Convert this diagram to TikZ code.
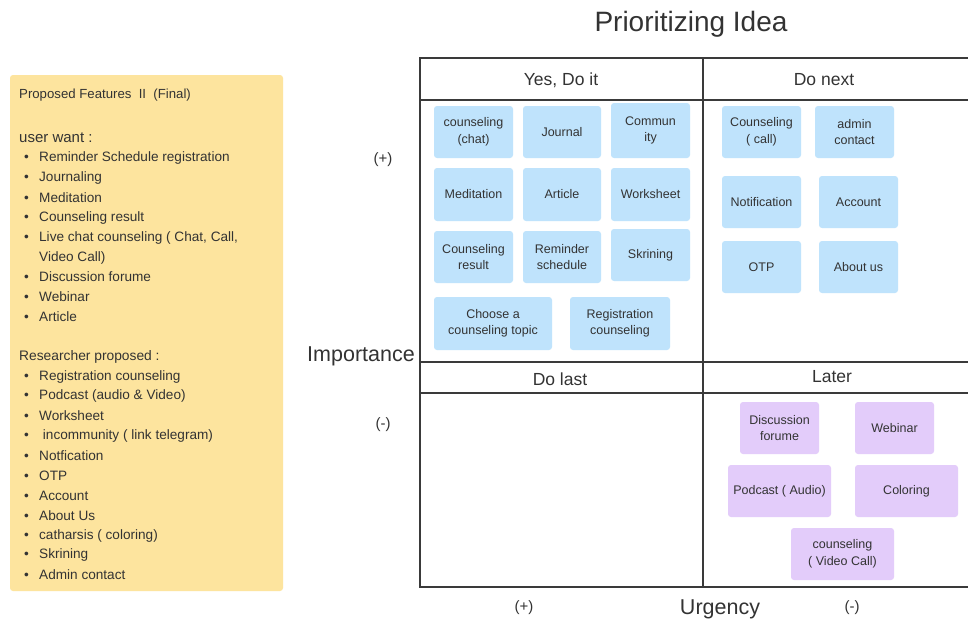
\documentclass[tikz,border=0pt]{standalone}
\usepackage{fontspec}
\setmainfont{Liberation Sans}
\definecolor{ink}{HTML}{333333}
\definecolor{gridink}{HTML}{3A3A3A}
\definecolor{notepad}{HTML}{FDE49E}
\definecolor{stickyblue}{HTML}{BFE3FC}
\definecolor{stickypurple}{HTML}{E3CCFA}
\tikzset{
  sticky/.style={rounded corners=3pt, inner sep=1pt, align=center, text=ink,
    font=\fontsize{12.5}{16.5}\selectfont},
  bluenote/.style={sticky, fill=stickyblue},
  purplenote/.style={sticky, fill=stickypurple},
  gridline/.style={draw=gridink, line width=1.5pt},
  header/.style={text=ink, yshift=-1pt, font=\fontsize{17.5}{20}\selectfont},
  axislabel/.style={text=ink, yshift=-1.5pt, font=\fontsize{21.5}{24}\selectfont},
  signlabel/.style={text=ink, yshift=-1.5pt, font=\fontsize{15}{17}\selectfont},
  listitem/.style={anchor=west, inner sep=0pt, yshift=-1.5pt, text=ink, font=\fontsize{13.6}{16}\selectfont},
}
\newcommand{\stickynote}[7]{% style, name, x1, y1, x2, y2, text
  \node[#1, minimum width=#5pt-#3pt, minimum height=#6pt-#4pt] (#2) at ({(#3+#5)/2},{(#4+#6)/2}) {#7};}
\begin{document}
\begin{tikzpicture}[x=1pt,y=-1pt]
\useasboundingbox (0,0) rectangle (968,618);
\fill[white] (0,0) rectangle (968,618);

% feature list note
\fill[notepad, rounded corners=3pt] (10,75) rectangle (283,591);
\node[listitem, font=\fontsize{13.2}{16}\selectfont] (listtitle) at (19,94) {Proposed Features~~II~~(Final)};
\node[listitem, font=\fontsize{15}{17}\selectfont] (userwant) at (19,136) {user want :};
\foreach \y/\t [count=\i] in {156/Reminder Schedule registration, 176/Journaling, 196/Meditation,
    216/Counseling result, 236/{Live chat counseling ( Chat, Call,}, 275/Discussion forume,
    295/Webinar, 315/Article}
  \node[listitem] (uw\i) at (24,\y) {\makebox[15pt][l]{\textbullet}\t};
\node[listitem] (uwcont) at (39,256) {Video Call)};
\node[listitem, font=\fontsize{13.8}{16}\selectfont] (resprop) at (19,355) {Researcher proposed :};
\foreach \y/\t [count=\i] in {375/Registration counseling, 394/Podcast (audio \& Video),
    414/Worksheet, 434/{\ incommunity ( link telegram)}, 454/Notfication, 474/OTP,
    494/Account, 514/About Us, 534/catharsis ( coloring), 553/Skrining, 573/Admin contact}
  \node[listitem] (rp\i) at (24,\y) {\makebox[15pt][l]{\textbullet}\t};

% title and axes
\node[text=ink, yshift=-2pt, font=\fontsize{28}{32}\selectfont] (title) at (691,22) {Prioritizing Idea};
\node[axislabel] (importance) at (361,355) {Importance};
\node[signlabel] (impplus) at (383,158) {(+)};
\node[signlabel] (impminus) at (383,423) {(-)};
\node[axislabel] (urgency) at (720,608) {Urgency};
\node[signlabel] (urgplus) at (524,606) {(+)};
\node[signlabel] (urgminus) at (852,606) {(-)};

% quadrant grid
\draw[gridline] (968,58) -- (420,58) -- (420,587) -- (968,587);
\draw[gridline] (703,58) -- (703,587);
\draw[gridline] (420,100) -- (968,100);
\draw[gridline] (420,362) -- (968,362);
\draw[gridline] (420,393) -- (968,393);
\node[header] (q1) at (561,79) {Yes, Do it};
\node[header] (q2) at (824,79) {Do next};
\node[header] (q3) at (560,378) {Do last};
\node[header] (q4) at (832,376) {Later};

% Yes, Do it
\stickynote{bluenote}{chat}{434}{106}{513}{158}{counseling\\(chat)}
\stickynote{bluenote}{journal}{523}{106}{601}{158}{Journal}
\stickynote{bluenote}{community}{611}{103}{690}{158}{Commun\\ity}
\stickynote{bluenote}{meditation}{434}{168}{513}{221}{Meditation}
\stickynote{bluenote}{article}{523}{168}{601}{221}{Article}
\stickynote{bluenote}{worksheet}{611}{168}{690}{221}{Worksheet}
\stickynote{bluenote}{result}{434}{231}{513}{283}{Counseling\\result}
\stickynote{bluenote}{reminder}{523}{231}{601}{283}{Reminder\\schedule}
\stickynote{bluenote}{skrining}{611}{229}{690}{281}{Skrining}
\stickynote{bluenote}{topic}{434}{297}{552}{350}{Choose a\\counseling topic}
\stickynote{bluenote}{registration}{570}{297}{670}{350}{Registration\\counseling}

% Do next
\stickynote{bluenote}{call}{722}{106}{801}{158}{Counseling\\( call)}
\stickynote{bluenote}{admin}{815}{106}{894}{158}{admin\\contact}
\stickynote{bluenote}{notification}{722}{176}{801}{228}{Notification}
\stickynote{bluenote}{account}{819}{176}{898}{228}{Account}
\stickynote{bluenote}{otp}{722}{241}{801}{293}{OTP}
\stickynote{bluenote}{about}{819}{241}{898}{293}{About us}

% Later
\stickynote{purplenote}{forum}{740}{402}{819}{454}{Discussion\\forume}
\stickynote{purplenote}{webinar}{855}{402}{934}{454}{Webinar}
\stickynote{purplenote}{podcast}{728}{465}{831}{517}{Podcast ( Audio)}
\stickynote{purplenote}{coloring}{855}{465}{958}{517}{Coloring}
\stickynote{purplenote}{videocall}{791}{528}{894}{580}{counseling\\( Video Call)}
\end{tikzpicture}
\end{document}
